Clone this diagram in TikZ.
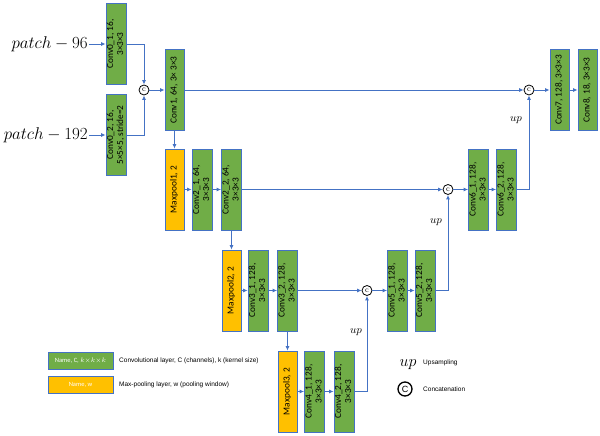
\documentclass[tikz,border=0pt]{standalone}
\usepackage{fontspec}
\usepackage{fix-cm}
\usepackage{graphicx}
\usetikzlibrary{arrows.meta}
\newfontfamily\boxfont{Carlito}
\newfontfamily\lgfont{Liberation Sans}
\definecolor{lgreen}{HTML}{70AD47}
\definecolor{lblue}{HTML}{4472C4}
\definecolor{lyel}{HTML}{FFC000}
\newcommand{\vtxt}[1]{\rotatebox{90}{\begin{tabular}{@{}c@{}}#1\end{tabular}}}
\begin{document}
\begin{tikzpicture}[x=1pt,y=-1pt,
  conv/.style={draw=lblue, line width=0.8pt, fill=lgreen, minimum width=19pt, minimum height=81pt, inner sep=0pt, font=\boxfont\fontsize{9.3}{10}\selectfont},
  pool/.style={conv, fill=lyel},
  cat/.style={circle, draw=black, line width=0.8pt, fill=white, minimum size=10pt, inner sep=0pt, font=\fontsize{8}{8}\selectfont},
  arr/.style={draw=lblue, line width=0.9pt, -{Latex[length=4.5pt,width=4pt]}},
  uplab/.style={font=\fontsize{11}{11}\selectfont, inner sep=0pt},
  patchlab/.style={anchor=east, inner sep=1pt, font=\fontsize{17}{17}\selectfont},
  lgbox/.style={draw=lblue, line width=0.8pt, minimum width=65pt, minimum height=17pt, inner sep=0pt, text=white, font=\boxfont\fontsize{6.5}{6.5}\selectfont},
  lgtext/.style={anchor=west, inner sep=0pt, font=\lgfont\fontsize{6.5}{6.5}\selectfont}
]
\useasboundingbox (0,0) rectangle (600,436);

% inputs
\node[patchlab] (p96) at (89,44) {$patch-96$};
\node[patchlab] (p192) at (89,135) {$patch-192$};

% encoder
\node[conv] (c01) at (116,44) {\vtxt{Conv0\_1, 16,\\3×3×3}};
\node[conv] (c02) at (116,135) {\vtxt{Conv0\_2, 16,\\5×5×5, stride=2}};
\node[cat] (cc1) at (144,90) {c};
\node[conv] (c1) at (174.5,90) {\vtxt{Conv1, 64, 3× 3×3}};
\node[pool] (mp1) at (174.5,189.5) {\vtxt{Maxpool1, 2}};
\node[conv] (c21) at (202,189.5) {\vtxt{Conv2\_1, 64,\\3×3×3}};
\node[conv] (c22) at (231.5,189.5) {\vtxt{Conv2\_2, 64,\\3×3×3}};
\node[pool] (mp2) at (231.5,290.5) {\vtxt{Maxpool2, 2}};
\node[conv] (c31) at (258,290.5) {\vtxt{Conv3\_1, 128,\\3×3×3}};
\node[conv] (c32) at (287.5,290.5) {\vtxt{Conv3\_2, 128,\\3×3×3}};
\node[pool] (mp3) at (287.5,391.5) {\vtxt{Maxpool3, 2}};
\node[conv] (c41) at (314.5,391.5) {\vtxt{Conv4\_1, 128,\\3×3×3}};
\node[conv] (c42) at (344,391.5) {\vtxt{Conv4\_2, 128,\\3×3×3}};

% decoder
\node[cat] (cc2) at (367,290.5) {c};
\node[conv] (c51) at (397.5,290.5) {\vtxt{Conv5\_1, 128,\\3×3×3}};
\node[conv] (c52) at (425,290.5) {\vtxt{Conv5\_2, 128,\\3×3×3}};
\node[cat] (cc3) at (448,189.5) {c};
\node[conv] (c61) at (478.5,189.5) {\vtxt{Conv6\_1, 128,\\3×3×3}};
\node[conv] (c62) at (506.5,189.5) {\vtxt{Conv6\_2, 128,\\3×3×3}};
\node[cat] (cc4) at (529,90) {c};
\node[conv] (c7) at (559.5,90) {\vtxt{Conv7, 128, 3×3×3}};
\node[conv] (c8) at (587.5,90) {\vtxt{Conv8, 18, 3×3×3}};

% up labels
\node[uplab] (up1) at (356,332) {$up$};
\node[uplab] (up2) at (436,222) {$up$};
\node[uplab] (up3) at (516,120) {$up$};

% connectors
\draw[arr] (p96) -- (c01);
\draw[arr] (p192) -- (c02);
\draw[arr] (c01.east) -| (cc1.north);
\draw[arr] (c02.east) -| (cc1.south);
\draw[arr] (cc1) -- (c1);
\draw[arr] (c1) -- (mp1);
\draw[arr] (c1) -- (cc4);
\draw[arr] (mp1) -- (c21);
\draw[arr] (c21) -- (c22);
\draw[arr] (c22) -- (cc3);
\draw[arr] (c22) -- (mp2);
\draw[arr] (mp2) -- (c31);
\draw[arr] (c31) -- (c32);
\draw[arr] (c32) -- (cc2);
\draw[arr] (c32) -- (mp3);
\draw[arr] (mp3) -- (c41);
\draw[arr] (c41) -- (c42);
\draw[arr] (c42.east) -| (cc2.south);
\draw[arr] (cc2) -- (c51);
\draw[arr] (c51) -- (c52);
\draw[arr] (c52.east) -| (cc3.south);
\draw[arr] (cc3) -- (c61);
\draw[arr] (c61) -- (c62);
\draw[arr] (c62.east) -| (cc4.south);
\draw[arr] (cc4) -- (c7);
\draw[arr] (c7) -- (c8);

% legend
\node[lgbox, fill=lgreen] (lg1) at (80.5,360.5) {Name, C, $k{\times}k{\times}k$};
\node[lgbox, fill=lyel] (lg2) at (80.5,384.5) {Name, w};
\node[lgtext] (lt1) at (119,361) {Convolutional layer, C (channels), k (kernel size)};
\node[lgtext] (lt2) at (119,384.5) {Max-pooling layer, w (pooling window)};
\node[font=\fontsize{16}{16}\selectfont, inner sep=0pt] (lup) at (408,365) {$up$};
\node[lgtext] (lt3) at (423,363) {Upsampling};
\node[circle, draw=black, line width=1.3pt, minimum size=14pt, inner sep=0pt, font=\lgfont\fontsize{9}{9}\selectfont] (lcc) at (405,389) {C};
\node[lgtext] (lt4) at (423,389) {Concatenation};
\end{tikzpicture}
\end{document}
